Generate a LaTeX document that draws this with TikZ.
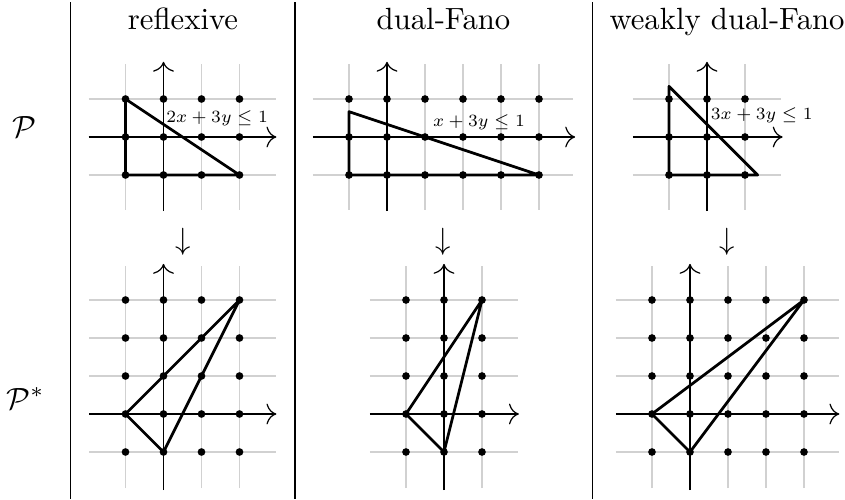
\documentclass[tikz,border=0pt]{standalone}
\usetikzlibrary{arrows.meta}
\tikzset{
  px/.style={x=0.3257pt,y=0.3257pt},
  unitgrid/.style={x=12.377pt,y=12.377pt},
  gridl/.style={black!18, line width=0.5pt, step=12.377pt},
  axis/.style={-{To[scale=1.3]}, line width=0.4pt},
  poly/.style={line width=0.9pt, line join=round},
  dot/.style={circle, fill=black, inner sep=0pt, minimum size=2.5pt},
  lab/.style={font=\scriptsize, inner sep=0pt, scale=0.8, transform shape},
  rule/.style={line width=0.4pt},
  head/.style={inner sep=0pt, anchor=base}
}
\begin{document}
\begin{tikzpicture}[px]
\useasboundingbox (0,0) rectangle (845,499);
% column rules
\coordinate (r1t) at (70.7,497); \coordinate (r1b) at (70.7,0);
\coordinate (r2t) at (295,497); \coordinate (r2b) at (295,0);
\coordinate (r3t) at (592.5,497); \coordinate (r3b) at (592.5,0);
\draw[rule] (r1t) -- (r1b);
\draw[rule] (r2t) -- (r2b);
\draw[rule] (r3t) -- (r3b);
% headers
\node[head] (h1) at (183,470) {reflexive};
\node[head] (h2) at (443.5,470) {dual-Fano};
\node[head] (h3) at (727,470) {weakly dual-Fano};
% row labels
\node[inner sep=0pt, anchor=base west] (P) at (12,362) {$\mathcal{P}$};
\node[inner sep=0pt, anchor=base west] (Ps) at (6,90) {$\mathcal{P}^*$};
% down arrows
\node[inner sep=0pt] (d1) at (183,257) {$\downarrow$};
\node[inner sep=0pt] (d2) at (443.5,257) {$\downarrow$};
\node[inner sep=0pt] (d3) at (727,257) {$\downarrow$};

% ---------- top left ----------
\begin{scope}[shift={(163.5,362)}, unitgrid]
  \draw[gridl] (-1.97,-1.92) grid (2.95,1.92);
  \coordinate (tlx0) at (-1.97,0); \coordinate (tlx1) at (2.97,0);
  \coordinate (tly0) at (0,-1.95); \coordinate (tly1) at (0,1.98);
  \draw[axis] (tlx0) -- (tlx1);
  \draw[axis] (tly0) -- (tly1);
  \coordinate (tlA) at (-1,1); \coordinate (tlB) at (-1,-1); \coordinate (tlC) at (2,-1);
  \draw[poly] (tlA) -- (tlB) -- (tlC) -- cycle;
  \foreach \x in {-1,...,2} \foreach \y in {-1,0,1}
    \node[dot] (tl\x\y) at (\x,\y) {};
  \node[lab] (tlL) at (1.41,0.5) {$2x+3y\leq 1$};
\end{scope}

% ---------- top middle ----------
\begin{scope}[shift={(387,362)}, unitgrid]
  \draw[gridl] (-1.95,-1.92) grid (4.9,1.92);
  \coordinate (tmx0) at (-1.95,0); \coordinate (tmx1) at (4.95,0);
  \coordinate (tmy0) at (0,-1.95); \coordinate (tmy1) at (0,1.98);
  \draw[axis] (tmx0) -- (tmx1);
  \draw[axis] (tmy0) -- (tmy1);
  \coordinate (tmA) at (-1,2/3); \coordinate (tmB) at (-1,-1); \coordinate (tmC) at (4,-1);
  \draw[poly] (tmA) -- (tmB) -- (tmC) -- cycle;
  \foreach \x in {-1,...,4} \foreach \y in {-1,0,1}
    \node[dot] (tm\x\y) at (\x,\y) {};
  \node[lab] (tmL) at (2.42,0.40) {$x+3y\leq 1$};
\end{scope}

% ---------- top right ----------
\begin{scope}[shift={(707,362)}, unitgrid]
  \draw[gridl] (-1.95,-1.92) grid (1.95,1.92);
  \coordinate (trx0) at (-1.95,0); \coordinate (trx1) at (1.99,0);
  \coordinate (try0) at (0,-1.95); \coordinate (try1) at (0,1.98);
  \draw[axis] (trx0) -- (trx1);
  \draw[axis] (try0) -- (try1);
  \coordinate (trA) at (-1,4/3); \coordinate (trB) at (-1,-1); \coordinate (trC) at (4/3,-1);
  \draw[poly] (trA) -- (trB) -- (trC) -- cycle;
  \foreach \x in {-1,0,1} \foreach \y in {-1,0,1}
    \node[dot] (tr\x\y) at (\x,\y) {};
  \node[lab] (trL) at (1.44,0.58) {$3x+3y\leq 1$};
\end{scope}

% ---------- bottom left ----------
\begin{scope}[shift={(163.5,85)}, unitgrid]
  \draw[gridl] (-1.95,-1.95) grid (2.95,3.9);
  \coordinate (blx0) at (-1.95,0); \coordinate (blx1) at (2.97,0);
  \coordinate (bly0) at (0,-2); \coordinate (bly1) at (0,3.95);
  \draw[axis] (blx0) -- (blx1);
  \draw[axis] (bly0) -- (bly1);
  \coordinate (blA) at (-1,0); \coordinate (blB) at (0,-1); \coordinate (blC) at (2,3);
  \draw[poly] (blA) -- (blB) -- (blC) -- cycle;
  \foreach \x in {-1,...,2} \foreach \y in {-1,...,3}
    \node[dot] (bl\x\y) at (\x,\y) {};
\end{scope}

% ---------- bottom middle ----------
\begin{scope}[shift={(444,85)}, unitgrid]
  \draw[gridl] (-1.95,-1.95) grid (1.95,3.9);
  \coordinate (bmx0) at (-1.95,0); \coordinate (bmx1) at (1.97,0);
  \coordinate (bmy0) at (0,-2); \coordinate (bmy1) at (0,3.95);
  \draw[axis] (bmx0) -- (bmx1);
  \draw[axis] (bmy0) -- (bmy1);
  \coordinate (bmA) at (-1,0); \coordinate (bmB) at (0,-1); \coordinate (bmC) at (1,3);
  \draw[poly] (bmA) -- (bmB) -- (bmC) -- cycle;
  \foreach \x in {-1,0,1} \foreach \y in {-1,...,3}
    \node[dot] (bm\x\y) at (\x,\y) {};
\end{scope}

% ---------- bottom right ----------
\begin{scope}[shift={(690,85)}, unitgrid]
  \draw[gridl] (-1.95,-1.95) grid (3.92,3.9);
  \coordinate (brx0) at (-1.95,0); \coordinate (brx1) at (3.93,0);
  \coordinate (bry0) at (0,-2); \coordinate (bry1) at (0,3.95);
  \draw[axis] (brx0) -- (brx1);
  \draw[axis] (bry0) -- (bry1);
  \coordinate (brA) at (-1,0); \coordinate (brB) at (0,-1); \coordinate (brC) at (3,3);
  \draw[poly] (brA) -- (brB) -- (brC) -- cycle;
  \foreach \x in {-1,...,3} \foreach \y in {-1,...,3}
    \node[dot] (br\x\y) at (\x,\y) {};
\end{scope}
\end{tikzpicture}
\end{document}
